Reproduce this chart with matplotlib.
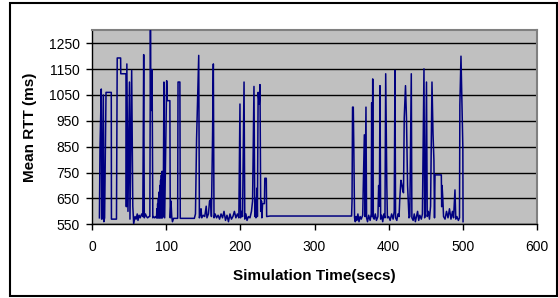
import matplotlib
matplotlib.use("Agg")
import matplotlib.pyplot as plt
from matplotlib.patches import Rectangle

# simulation time (secs) and mean RTT (ms)
time_s = [
    10, 10.8, 12.5, 13, 13.5, 15.3, 16, 17, 18.9, 26, 26.2, 33, 34, 38.6, 38.8, 45.8,
    46.3, 47, 48, 48.5, 50.5, 51.2, 53.5, 55, 56.2,
    57, 58, 59.5, 61, 62, 63.5, 65, 67, 68.5, 69.7, 70.5, 72, 73.5, 75, 77,
    78, 78.8, 79.3, 80, 80.5, 81, 82, 83, 84.5, 86, 87,
    87.5, 88, 88.5, 89, 89.5, 90, 90.5, 91, 91.5, 92, 92.5, 93, 93.5, 94, 94.5, 95, 95.5, 96,
    97, 98, 100.7, 101.5, 105, 105.5, 106.5, 107.5, 108.5, 110, 115.5, 116, 118.5, 119, 138,
    139.5, 141, 143.9, 144.8, 146, 147, 148, 150, 152, 154, 155, 157, 158.5, 160, 161,
    162.5, 163.6, 164.5, 166, 168, 170, 172, 174, 176, 178, 180, 182, 184, 186, 188, 190,
    192, 194, 196, 198, 199.5, 200.3, 201.5, 203, 205, 206, 207.5, 209, 211, 213, 215,
    216.5, 218.4, 219.5, 220.5, 221, 222.5, 223, 224, 225.5, 226.5, 227.5, 228.5, 229,
    230, 232.5, 233, 235, 235.5, 240, 350,
    350.6, 351.3, 352.3, 353, 354, 355, 356, 357, 358.5, 360, 361.5, 363, 365,
    367.2, 368, 369.4, 370.2, 371.5, 373, 375, 376.5,
    377.1, 377.6, 378.5, 379.3, 380.5, 382, 383.5, 385.5, 386.5,
    387.5, 388.3, 389.2, 390.5, 392, 393.5, 395,
    396, 397.5, 398.3, 400, 402, 404, 406, 407.5,
    408.5, 409.3, 411, 412.5, 414, 415, 416.5, 418, 419, 420, 421, 422.7, 424, 425.5, 427.4,
    428.5, 430.5, 431.3, 433, 434.5, 436, 437.5, 439, 440.5, 442, 444, 445.5,
    447.6, 448.5, 449.5, 451, 452, 453.5, 455, 456.5, 458.4, 459.8, 461, 461.8, 462.5, 471,
    471.5, 472, 473, 474, 476, 478, 480, 482, 484, 486, 487.5, 489.4, 490.5, 492, 494, 495.5,
    496, 497.5, 500, 500.3,
]
rtt_ms = [
    575, 850, 1073, 570, 570, 1050, 560, 575, 1060, 1060, 570, 570, 1193, 1193, 1132, 1132,
    618, 1170, 800, 600, 1100, 570, 1145, 620, 552,
    565, 580, 570, 590, 565, 585, 575, 590, 580, 1206, 575, 590, 580, 575, 580,
    580, 1300, 993, 1148, 990, 1148, 575, 580, 575, 580, 575,
    610, 575, 630, 575, 650, 575, 675, 575, 700, 575, 720, 575, 740, 575, 755, 575, 700, 580,
    1100, 575, 1105, 1028, 1028, 575, 640, 580, 560, 573, 573, 1100, 1100, 573, 573,
    590, 880, 1203, 575, 590, 610, 575, 585, 580, 620, 575, 590, 640, 645, 580,
    880, 1170, 575, 590, 575, 585, 570, 590, 575, 600, 565, 585, 560, 590, 570, 580,
    600, 575, 590, 575, 1015, 575, 600, 580, 1100, 570, 590, 565, 580, 575, 600,
    640, 1083, 580, 650, 575, 690, 580, 1060, 1015, 1090, 600, 640, 575,
    630, 630, 728, 728, 580, 582, 582,
    640, 1003, 1003, 850, 575, 560, 580, 565, 590, 560, 580, 570, 585,
    896, 580, 1003, 575, 560, 585, 565, 590,
    1020, 580, 1112, 575, 570, 590, 565, 580, 700,
    620, 1086, 570, 585, 560, 590, 575,
    1132, 700, 575, 580, 565, 590, 570, 600,
    1145, 575, 565, 590, 580, 650, 720, 700, 680, 672, 962, 1086, 962, 700, 575,
    580, 1132, 575, 565, 590, 560, 580, 600, 565, 585, 570, 590,
    1151, 575, 600, 1100, 580, 600, 570, 620, 1100, 900, 800, 575, 741, 741,
    618, 700, 650, 580, 570, 600, 575, 610, 570, 600, 575, 683, 570, 580, 565, 575,
    1012, 1200, 850, 560,
]
x_ticks = [0, 100, 200, 300, 400, 500, 600]
y_ticks = [550, 650, 750, 850, 950, 1050, 1150, 1250]

plt.rcParams["font.family"] = ["Liberation Sans", "DejaVu Sans"]

fig = plt.figure(figsize=(5.58, 2.98), dpi=100)
ax = fig.add_axes([92 / 558, 1 - 224.3 / 298, 445 / 558, 194 / 298])
ax.set_facecolor("#c0c0c0")

ax.plot(time_s, rtt_ms, color="#000080", linewidth=1.1, zorder=3)

ax.set_xlim(0, 600)
ax.set_ylim(550, 1300)
ax.set_xticks(x_ticks)
ax.set_yticks(y_ticks)
ax.yaxis.grid(True, color="black", linewidth=1.0)
ax.set_axisbelow(True)
ax.tick_params(labelsize=10, length=4, width=1, pad=5, direction="out")
ax.tick_params(axis="x", pad=7)

for side in ("top", "right"):
    ax.spines[side].set_color("#808080")
    ax.spines[side].set_linewidth(1.5)
for side in ("left", "bottom"):
    ax.spines[side].set_color("black")
    ax.spines[side].set_linewidth(1.0)

ax.set_xlabel("Simulation Time(secs)", fontsize=11, fontweight="bold", labelpad=11)
ax.set_ylabel("Mean RTT (ms)", fontsize=11, fontweight="bold", labelpad=8)

fig.patches.append(Rectangle((10 / 558, 2.5 / 298), 547 / 558, 292.5 / 298,
                             transform=fig.transFigure, fill=False,
                             edgecolor="black", linewidth=1.5))

fig.savefig("out.png", dpi=100)
